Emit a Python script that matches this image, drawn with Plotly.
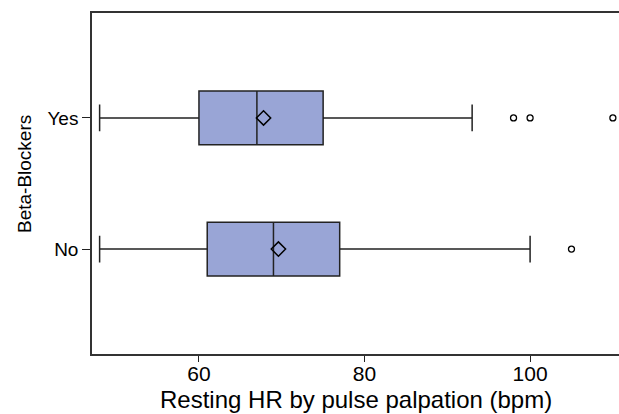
import plotly.graph_objects as go

categories = ["No", "Yes"]
q1 = [61, 60]
median = [69, 67]
q3 = [77, 75]
lower_whisker = [48, 48]
upper_whisker = [100, 93]
means = [69.6, 67.8]
outliers_no = [105]
outliers_yes = [98, 100, 110]

x_ticks = [60, 80, 100]

x_title = "Resting HR by pulse palpation (bpm)"
y_title = "Beta-Blockers"

BOX_FILL = "#99A5D6"
LINE = "#222222"
FONT = "Liberation Sans, Arial, sans-serif"

fig = go.Figure()

fig.add_trace(go.Box(
    y=categories,
    q1=q1, median=median, q3=q3,
    lowerfence=lower_whisker, upperfence=upper_whisker,
    orientation="h",
    fillcolor=BOX_FILL,
    line=dict(color=LINE, width=1.5),
    width=0.41,
    whiskerwidth=0.5,
    boxpoints=False,
    showlegend=False,
    hoverinfo="skip",
))

fig.add_trace(go.Scatter(
    x=means, y=categories, mode="markers",
    marker=dict(symbol="diamond-open", size=11, color="black", line=dict(width=1.5, color="black")),
    showlegend=False,
))

fig.add_trace(go.Scatter(
    x=outliers_no + outliers_yes,
    y=["No"] * len(outliers_no) + ["Yes"] * len(outliers_yes),
    mode="markers",
    marker=dict(symbol="circle-open", size=6, color="black", line=dict(width=1.3, color="black")),
    showlegend=False,
))

fig.update_layout(
    width=619, height=414,
    margin=dict(l=92, r=0, t=13, b=60, autoexpand=False),
    paper_bgcolor="white", plot_bgcolor="white",
    font=dict(family=FONT, color="black"),
    showlegend=False,
    annotations=[
        dict(text=x_title, xref="paper", yref="paper", x=0.5, y=-0.134,
             xanchor="center", yanchor="middle", showarrow=False,
             font=dict(size=24, family=FONT, color="black")),
        dict(text=y_title, xref="paper", yref="paper", x=-0.127, y=0.528,
             xanchor="center", yanchor="middle", showarrow=False, textangle=-90,
             font=dict(size=19, family=FONT, color="black")),
    ],
)

fig.update_xaxes(
    range=[47.08, 110.74],
    tickvals=x_ticks, ticktext=[str(v) for v in x_ticks],
    ticks="outside", ticklen=6, tickcolor=LINE, tickwidth=1.3,
    showline=True, linecolor="#333333", linewidth=1.5, mirror=True,
    showgrid=False, zeroline=False, automargin=False,
    tickfont=dict(size=21, family=FONT),
    ticklabelstandoff=-6,
)

fig.update_yaxes(
    categoryorder="array", categoryarray=categories,
    range=[-0.8, 1.8],
    ticks="outside", ticklen=8, tickcolor=LINE, tickwidth=1.3,
    showline=True, linecolor="#333333", linewidth=1.5, mirror=False,
    showgrid=False, zeroline=False, automargin=False,
    tickfont=dict(size=19, family=FONT),
)

fig.write_html(
    "out.html",
    config={"displayModeBar": False},
    post_script="document.body.style.margin='0';document.body.style.overflow='hidden';",
)
